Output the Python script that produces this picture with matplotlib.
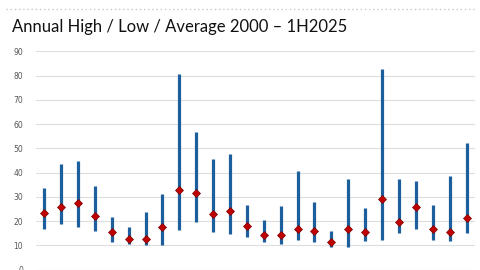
import numpy as np
import matplotlib
matplotlib.use('Agg')
from matplotlib import pyplot as plt
from matplotlib.lines import Line2D

# Datos (2000 - 1H2025)
years = list(range(2000, 2026))
highs = [33.5, 43.5, 44.9, 34.6, 21.7, 17.6, 23.8, 31.0, 80.8, 56.6, 45.7, 47.8, 26.6,
         20.5, 26.4, 40.7, 28.0, 15.9, 37.2, 25.3, 82.6, 37.2, 36.4, 26.6, 38.6, 52.3]
lows = [16.7, 18.9, 17.6, 15.8, 11.2, 10.6, 10.1, 10.1, 16.3, 19.8, 15.5, 14.8, 13.6,
        11.5, 10.7, 12.1, 11.5, 9.5, 9.5, 11.7, 12.2, 15.2, 16.7, 12.2, 11.9, 15.0]
avgs = [23.2, 25.9, 27.3, 22.2, 15.5, 12.7, 12.7, 17.7, 32.8, 31.5, 22.8, 24.2, 17.8,
        14.4, 14.4, 16.6, 15.9, 11.2, 16.6, 15.5, 29.3, 19.8, 25.7, 16.7, 15.6, 21.2]
yticks = list(range(0, 100, 10))

fig = plt.figure(figsize=(4.8, 2.7), dpi=100)
fig.patch.set_facecolor('white')

# linea punteada superior
fig.add_artist(Line2D([0.012, 0.99], [1 - 8.5/270, 1 - 8.5/270], color='#c8c8c8',
                      lw=1.0, ls=(0, (1, 2))))
fig.text(12/480, 1 - 27/270, 'Annual High / Low / Average 2000 \u2013 1H2025',
         fontsize=12, family='Lato', color='#111111', va='center', ha='left')

ax = fig.add_axes([35.7/480, 0.4/270, (475 - 35.7)/480, (269.6 - 51.3)/270])
x = np.arange(len(years))
ax.vlines(x, lows, highs, color='#1c5f9c', lw=2.3, zorder=3)
ax.plot(x, avgs, ls='none', marker='D', ms=3.6, mfc='#c00000', mec='#800000',
        mew=0.5, zorder=4)

ax.set_xlim(-0.5, len(years) - 0.5)
ax.set_ylim(0, 90)
ax.set_yticks(yticks)
ax.set_yticklabels([str(t) for t in yticks], fontsize=5.5, color='#555555')
ax.set_xticks([])
ax.tick_params(axis='y', length=0, pad=9)
ax.grid(axis='y', color='#dedede', lw=0.8, zorder=0)
for s in ax.spines.values():
    s.set_visible(False)

fig.savefig('out.png', dpi=100, facecolor='white')
